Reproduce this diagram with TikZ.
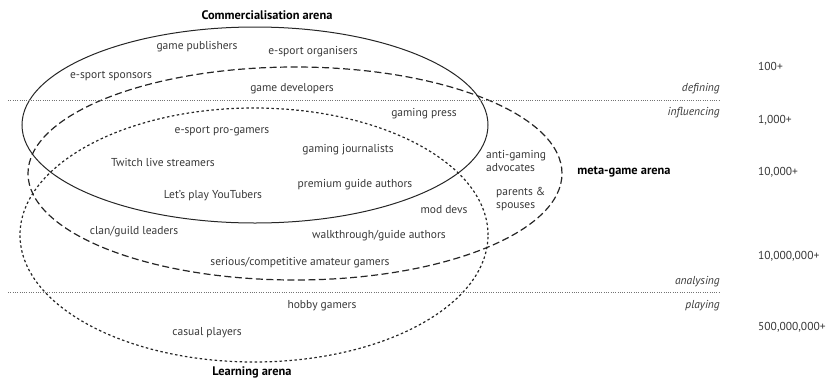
\documentclass[tikz,border=0pt]{standalone}
\usepackage{fontspec}
\setmainfont{PT Sans}
\begin{document}
\begin{tikzpicture}[x=1pt,y=-1pt,
  lbl/.style={inner sep=0pt,font=\fontsize{11.5}{13.5}\selectfont,text=black!78},
  ttl/.style={lbl,font=\fontsize{12.4}{14}\selectfont\bfseries,text=black},
  lvl/.style={lbl,font=\fontsize{11.5}{13.5}\selectfont\itshape,anchor=east},
  num/.style={lbl,anchor=west},
  sep/.style={draw=black!55,line width=0.9pt,dash pattern=on 1pt off 1.3pt},
  comm/.style={draw=black!85,line width=1pt},
  meta/.style={draw=black!85,line width=1.2pt,dash pattern=on 7pt off 3.5pt},
  learn/.style={draw=black!85,line width=1.2pt,dash pattern=on 2.5pt off 2.5pt}]
\useasboundingbox (0,0) rectangle (828,378);
% arenas
\draw[comm] (255,125) ellipse [x radius=233pt, y radius=98pt];
\draw[meta] (295,173.5) ellipse [x radius=267pt, y radius=106.5pt];
\draw[learn] (254,235) ellipse [x radius=234pt, y radius=127pt];
% level separators
\coordinate (d1) at (8,100); \coordinate (d2) at (720,100);
\coordinate (a1) at (8,292); \coordinate (a2) at (720,292);
\draw[sep] (d1) -- (d2);
\draw[sep] (a1) -- (a2);
% titles
\node[ttl] (tc) at (267,15) {Commercialisation arena};
\node[ttl] (tl) at (252,372) {Learning arena};
\node[ttl] (tm) at (624,172) {meta-game arena};
% actors
\node[lbl] (gp) at (197,47) {game publishers};
\node[lbl] (eo) at (313,52) {e-sport organisers};
\node[lbl] (es) at (111,76) {e-sport sponsors};
\node[lbl] (gd) at (292,89) {game developers};
\node[lbl] (gpr) at (424,114) {gaming press};
\node[lbl] (epg) at (222,131) {e-sport pro-gamers};
\node[lbl] (gj) at (348,150) {gaming journalists};
\node[lbl] (tls) at (163,162) {Twitch live streamers};
\node[lbl] (pga) at (355,185) {premium guide authors};
\node[lbl] (lpy) at (213,196) {Let's play YouTubers};
\node[lbl] (cgl) at (134,232) {clan/guild leaders};
\node[lbl] (wga) at (379,236) {walkthrough/guide authors};
\node[lbl] (sca) at (300,263) {serious/competitive amateur gamers};
\node[lbl] (hg) at (322,306) {hobby gamers};
\node[lbl] (cp) at (207,333) {casual players};
\node[lbl] (md) at (444,210) {mod devs};
\node[lbl,anchor=west,align=left] (aga) at (486,161) {anti-gaming\\advocates};
\node[lbl,anchor=west,align=left] (ps) at (496,199) {parents \&\\spouses};
% levels
\node[lvl] (ldef) at (720,89) {defining};
\node[lvl] (linf) at (720,113) {influencing};
\node[lvl] (lana) at (720,282) {analysing};
\node[lvl] (lpla) at (720,306) {playing};
% numbers
\node[num] (n1) at (758,66) {100+};
\node[num] (n2) at (758,120) {1,000+};
\node[num] (n3) at (758,172) {10,000+};
\node[num] (n4) at (758,256) {10,000,000+};
\node[num] (n5) at (758,327) {500,000,000+};
\end{tikzpicture}
\end{document}
